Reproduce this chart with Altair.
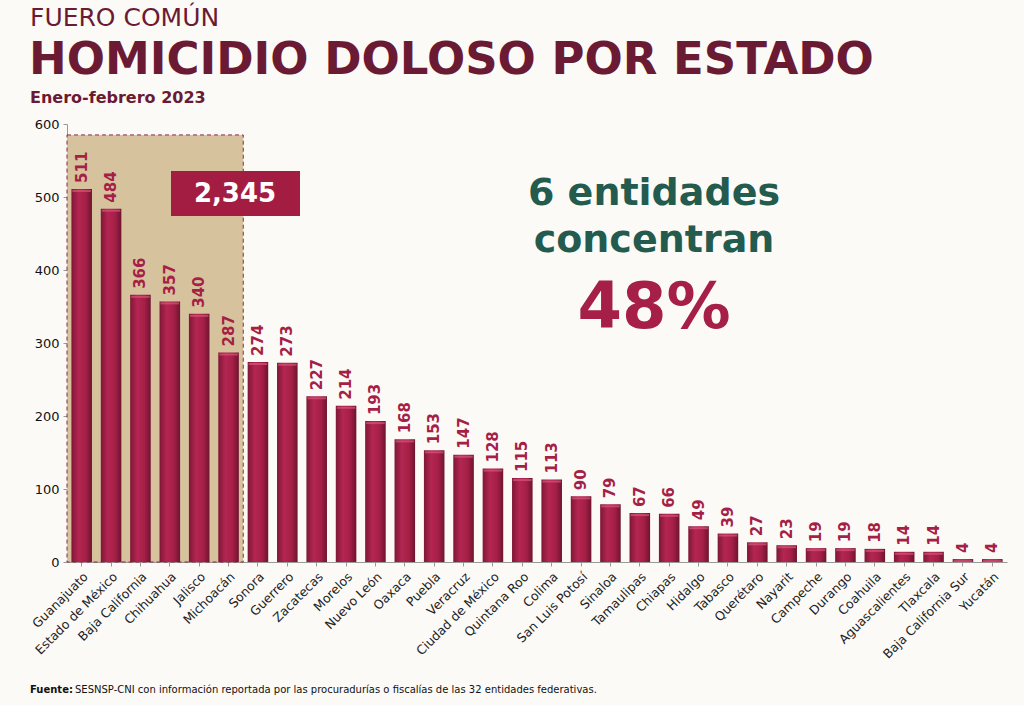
import altair as alt
import pandas as pd

# Homicidio doloso por entidad, enero-febrero 2023
estados = [
    "Guanajuato", "Estado de México", "Baja California", "Chihuahua", "Jalisco",
    "Michoacán", "Sonora", "Guerrero", "Zacatecas", "Morelos", "Nuevo León",
    "Oaxaca", "Puebla", "Veracruz", "Ciudad de México", "Quintana Roo", "Colima",
    "San Luis Potosí", "Sinaloa", "Tamaulipas", "Chiapas", "Hidalgo", "Tabasco",
    "Querétaro", "Nayarit", "Campeche", "Durango", "Coahuila", "Aguascalientes",
    "Tlaxcala", "Baja California Sur", "Yucatán",
]
victimas = [
    511, 484, 366, 357, 340, 287, 274, 273, 227, 214, 193, 168, 153, 147, 128,
    115, 113, 90, 79, 67, 66, 49, 39, 27, 23, 19, 19, 18, 14, 14, 4, 4,
]
y_ticks = [0, 100, 200, 300, 400, 500, 600]

top_n = 6
total_top = sum(victimas[:top_n])          # 2,345
share_top = round(100 * total_top / sum(victimas))

W, H = 940, 438
FONT = "DejaVu Sans"
WINE = "#A51F46"
DARK_WINE = "#6B1A34"
GREEN = "#235B4E"

df = pd.DataFrame({"estado": estados, "victimas": victimas})

x_enc = alt.X(
    "estado:N", sort=estados, title=None,
    scale=alt.Scale(paddingInner=0.3, paddingOuter=0.15),
    axis=alt.Axis(labelAngle=-45, labelFontSize=12.5, labelColor="#222222",
                  labelFont=FONT, domainColor="#999999", tickColor="#999999",
                  tickSize=4, labelPadding=4),
)
y_scale = alt.Scale(domain=[0, 600], nice=False)
y_axis = alt.Axis(values=y_ticks, grid=False, labelFontSize=13,
                  labelColor="#111111", labelFont=FONT,
                  domainColor="#999999", tickColor="#999999",
                  tickSize=4, labelPadding=4)

band = W / len(estados)

# shaded frame around the six leading states
frame = alt.Chart(pd.DataFrame({"top": [585], "base": [0]})).mark_rect(
    fill="#D6C39E", stroke="#8A2A3E", strokeDash=[4, 3], strokeWidth=1
).encode(
    x=alt.value(0), x2=alt.value(band * top_n),
    y=alt.Y("top:Q", scale=y_scale, axis=y_axis, title=None), y2="base:Q",
)

bars = alt.Chart(df).mark_bar(
    color=alt.Gradient(
        gradient="linear", x1=0, x2=1, y1=0, y2=0,
        stops=[alt.GradientStop(color="#7E1735", offset=0),
               alt.GradientStop(color="#B42652", offset=0.35),
               alt.GradientStop(color="#A51F46", offset=0.7),
               alt.GradientStop(color="#6E1430", offset=1)],
    )
).encode(
    x=x_enc,
    y=alt.Y("victimas:Q", scale=y_scale, title=None, axis=y_axis),
)

caps = alt.Chart(df).mark_tick(color="#D9557A", thickness=2, size=band * 0.7 - 2).encode(
    x=x_enc, y=alt.Y("victimas:Q", scale=y_scale),
    yOffset=alt.value(2),
)

labels = alt.Chart(df).mark_text(
    angle=270, align="left", baseline="middle", dx=6, font=FONT,
    fontSize=15, fontWeight="bold", color=WINE,
).encode(
    x=x_enc, y=alt.Y("victimas:Q", scale=y_scale), text="victimas:Q",
)

# total of the six leading states
total_box = alt.Chart(pd.DataFrame({"a": [1]})).mark_rect(fill="#A31D42").encode(
    x=alt.value(104), x2=alt.value(233), y=alt.value(47), y2=alt.value(92),
)
total_txt = alt.Chart(pd.DataFrame({"t": [f"{total_top:,}"]})).mark_text(
    font=FONT, fontSize=26, fontWeight="bold", color="white",
    align="center", baseline="middle",
).encode(text="t:N", x=alt.value(168), y=alt.value(70))


def note(text, x, y, size, color, weight="bold", align="left"):
    return alt.Chart(pd.DataFrame({"t": [text]})).mark_text(
        font=FONT, fontSize=size, fontWeight=weight, color=color,
        align=align, baseline="alphabetic",
    ).encode(text="t:N", x=alt.value(x), y=alt.value(y))


texts = [
    note("FUERO COMÚN", -37, -98, 25, DARK_WINE, weight="normal"),
    note("HOMICIDIO DOLOSO POR ESTADO", -38, -50, 45, DARK_WINE),
    note("Enero-febrero 2023", -37, -21, 16, DARK_WINE),
    note(f"{top_n} entidades", 587, 81, 38, GREEN, align="center"),
    note("concentran", 587, 128, 38, GREEN, align="center"),
    note(f"{share_top}%", 587, 204, 64, WINE, align="center"),
    note("Fuente:", -37, 569, 10, "#111111"),
    note("SESNSP-CNI con información reportada por las procuradurías o fiscalías de las 32 entidades federativas.",
         8, 569, 10, "#111111", weight="normal"),
]

chart = alt.layer(frame, bars, caps, labels, total_box, total_txt, *texts).properties(
    width=W, height=H,
    background="#FCFAF7",
    padding={"left": 67, "top": 124, "right": 17, "bottom": 143},
    autosize=alt.AutoSizeParams(type="none"),
).configure_view(stroke=None)

chart.save("out.html", embed_options={"renderer": "svg", "actions": False})
